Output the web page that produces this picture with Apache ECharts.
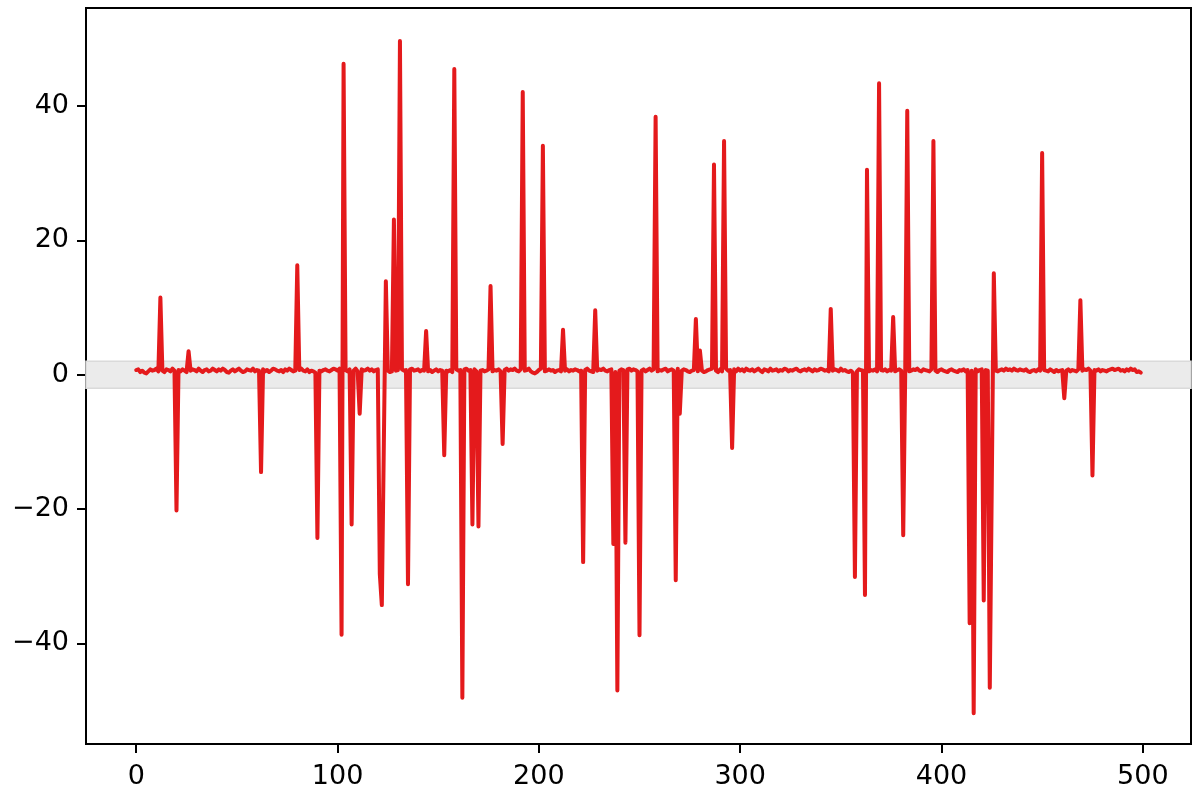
<!DOCTYPE html>
<html>
<head>
<meta charset="utf-8">
<script src="https://cdn.jsdelivr.net/npm/echarts@6/dist/echarts.min.js"></script>
<style>html,body{margin:0;padding:0;background:#fff;}#chart{width:1200px;height:800px;}</style>
</head>
<body>
<div id="chart"></div>
<script>
const values = [
 0.7,0.8,0.4,0.6,0.3,0.2,0.5,0.8,0.6,0.7,0.9,0.5,11.5,0.6,0.4,0.8,0.7,0.5,0.9,0.6,
 -20.2,0.7,0.5,0.8,0.6,0.4,3.5,0.6,0.8,0.7,0.5,0.9,0.6,0.4,0.7,0.8,0.5,0.6,0.9,0.7,
 0.5,0.8,0.6,0.9,0.7,0.4,0.3,0.6,0.8,0.5,0.7,0.9,0.6,0.4,0.5,0.8,0.7,0.6,0.9,0.5,
 0.7,0.6,-14.5,0.8,0.5,0.7,0.4,0.6,0.9,0.8,0.6,0.5,0.7,0.4,0.8,0.6,0.9,0.7,0.5,0.6,
 16.3,0.7,0.9,0.6,0.5,0.8,0.4,0.6,0.5,0.3,-24.3,0.6,0.5,0.7,0.8,0.6,0.5,0.7,0.9,0.8,
 0.6,0.9,-38.7,46.3,0.7,0.5,0.8,-22.3,0.6,0.9,0.5,-5.8,0.8,0.6,0.7,0.9,0.6,0.8,0.5,0.7,
 0.8,-29.7,-34.3,-10.2,13.9,0.6,0.4,0.5,23.1,0.6,0.7,49.7,0.8,0.6,0.7,-31.2,0.8,0.9,0.6,0.7,
 0.8,0.5,0.7,0.6,6.5,0.5,0.7,0.4,0.6,0.8,0.5,0.7,0.6,-12,0.6,0.5,0.7,0.4,45.5,0.8,
 0.6,0.7,-48.1,0.8,0.9,0.6,0.7,-22.3,0.8,0.5,-22.6,0.6,0.7,0.5,0.6,0.8,13.2,0.5,0.7,0.6,
 0.8,0.5,-10.3,0.7,0.9,0.6,0.8,0.7,0.9,0.6,0.5,0.8,42.1,0.6,0.7,0.9,0.5,0.3,0.2,0.4,
 0.7,0.9,34.1,0.5,0.6,0.8,0.6,0.7,0.4,0.6,0.7,0.5,6.7,0.6,0.8,0.5,0.7,0.6,0.8,0.7,
 0.5,0.6,-27.9,0.7,0.9,0.6,0.5,0.4,9.6,0.6,0.8,0.7,0.9,0.6,0.5,0.7,0.8,-25.2,0.4,-47,
 0.6,0.8,0.7,-25,0.8,0.9,0.6,0.8,0.7,0.5,-38.8,0.6,0.8,0.5,0.7,0.9,0.6,0.8,38.4,0.5,
 0.7,0.6,0.8,0.9,0.5,0.7,0.8,0.6,-30.6,0.9,-5.8,0.6,0.8,0.7,0.5,0.4,0.6,0.7,8.3,0.5,
 3.6,0.6,0.4,0.5,0.7,0.8,0.9,31.3,0.6,0.4,0.8,0.5,34.8,0.9,0.6,0.7,-10.9,0.8,0.5,0.9,
 0.6,0.8,0.5,0.9,0.7,0.6,0.8,0.5,0.7,0.9,0.6,0.4,0.8,0.7,0.5,0.9,0.6,0.7,0.8,0.5,
 0.7,0.6,0.9,0.8,0.5,0.7,0.6,0.8,0.9,0.6,0.5,0.7,0.8,0.6,0.9,0.7,0.5,0.8,0.6,0.7,
 0.9,0.8,0.6,0.7,0.5,9.8,0.6,0.8,0.7,0.5,0.9,0.6,0.7,0.5,0.4,0.6,0.3,-30.1,0.5,0.8,
 0.7,0.6,-32.8,30.5,0.5,0.7,0.6,0.8,0.5,43.4,0.7,0.6,0.8,0.5,0.7,0.6,8.6,0.5,0.7,0.8,
 0.6,-23.9,0.7,39.3,0.5,0.6,0.8,0.7,0.9,0.6,0.5,0.8,0.7,0.6,0.5,0.8,34.8,0.6,0.4,0.7,
 0.8,0.6,0.5,0.4,0.7,0.8,0.6,0.5,0.4,0.7,0.6,0.8,0.5,0.7,-37,0.6,-50.4,0.8,0.5,0.7,
 0.8,-33.6,0.7,0.6,-46.6,-16,15.1,0.6,0.5,0.7,0.8,0.6,0.9,0.7,0.8,0.6,0.9,0.7,0.6,0.8,
 0.7,0.6,0.8,0.5,0.4,0.6,0.7,0.5,0.8,0.6,33,0.7,0.6,0.5,0.8,0.6,0.4,0.7,0.5,0.6,
 0.7,-3.5,0.6,0.8,0.5,0.7,0.6,0.5,0.8,11.1,0.6,0.8,0.7,0.9,0.6,-15,0.7,0.6,0.8,0.5,
 0.7,0.6,0.5,0.7,0.8,0.9,0.7,0.8,0.9,0.6,0.7,0.5,0.8,0.6,0.9,0.7,0.8,0.4,0.5,0.3
];
const xTicks = [0, 100, 200, 300, 400, 500];
const yTicks = [-40, -20, 0, 20, 40];
const band = [-2, 2];
const xRange = [-24.95, 523.95];
const yRange = [-54.98, 54.6];

const seriesData = values.map((v, i) => [i, v]);
const fmt = v => String(v).replace('-', '\u2212');
const font = 'DejaVu Sans';

const chart = echarts.init(document.getElementById('chart'));
chart.setOption({
  animation: false,
  grid: {left: 86, right: 9, top: 8, bottom: 56, show: true, borderColor: '#000', borderWidth: 2},
  xAxis: {
    type: 'value', min: xRange[0], max: xRange[1],
    splitLine: {show: false},
    axisLine: {show: true, onZero: false, lineStyle: {color: '#000', width: 2}},
    axisTick: {show: true, customValues: xTicks, length: 9, lineStyle: {color: '#000', width: 2}},
    axisLabel: {show: true, customValues: xTicks, formatter: fmt, color: '#000', fontSize: 27, fontFamily: font, margin: 19}
  },
  yAxis: {
    type: 'value', min: yRange[0], max: yRange[1],
    splitLine: {show: false},
    axisLine: {show: true, onZero: false, lineStyle: {color: '#000', width: 2}},
    axisTick: {show: true, customValues: yTicks, length: 9, lineStyle: {color: '#000', width: 2}},
    axisLabel: {show: true, customValues: yTicks, formatter: fmt, color: '#000', fontSize: 27, fontFamily: font, margin: 17}
  },
  series: [
    {
      type: 'line', data: seriesData, z: 3,
      showSymbol: false, symbol: 'none',
      lineStyle: {color: '#e41a1c', width: 4, cap: 'round', join: 'round'},
      itemStyle: {color: '#e41a1c'},
      markArea: {
        silent: true,
        itemStyle: {color: '#ebebeb', borderColor: '#dadada', borderWidth: 1.5},
        data: [[{yAxis: band[0]}, {yAxis: band[1]}]]
      }
    }
  ]
});
</script>
</body>
</html>
